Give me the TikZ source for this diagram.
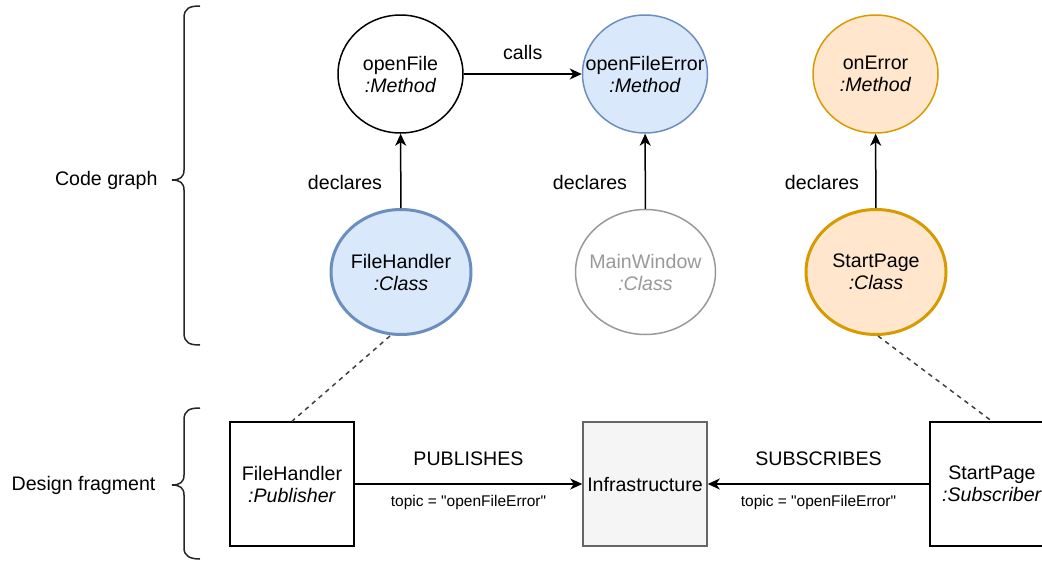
\documentclass[tikz,border=0pt]{standalone}
\usepackage{fontspec}
\setmainfont{Liberation Sans}[Ligatures=TeXOff]
\usetikzlibrary{shapes.geometric,arrows.meta}
\definecolor{blueFill}{HTML}{DAE8FC}
\definecolor{blueLine}{HTML}{6C8EBF}
\definecolor{orangeFill}{HTML}{FFE6CC}
\definecolor{orangeLine}{HTML}{D79B00}
\definecolor{greyText}{HTML}{999999}
\definecolor{infraFill}{HTML}{F5F5F5}
\definecolor{infraLine}{HTML}{666666}
\begin{document}
\begin{tikzpicture}[x=1pt,y=-1pt,
  every node/.style={font=\fontsize{19.6}{22}\selectfont, text=black},
  method/.style={ellipse, draw, line width=1.5pt, minimum width=125pt, minimum height=118pt, inner sep=0pt},
  classnode/.style={ellipse, draw, line width=1.5pt, minimum width=140pt, minimum height=125pt, inner sep=0pt},
  caption/.style={align=center, inner sep=0pt},
  boxnode/.style={rectangle, draw, line width=1.5pt, minimum width=124pt, minimum height=124pt, inner sep=0pt, align=center},
  rel/.style={line width=1.5pt, -{Stealth[length=12pt,width=11pt,inset=3.5pt]}},
  trace/.style={line width=1.5pt, dash pattern=on 4.5pt off 4.5pt, draw=black!75},
  brace/.style={line width=1.5pt, draw=black!85},
  small/.style={font=\fontsize{15.5}{18}\selectfont}
]
\useasboundingbox (0,0) rectangle (1042,560);

% code graph: methods (shape first, caption on top so the ellipse keeps its size)
\node[method] (of) at (400.5,74) {};
\node[caption] (of-t) at (of) {openFile\\\textit{:Method}};
\node[method, fill=blueFill, draw=blueLine] (ofe) at (645,74) {};
\node[caption] (ofe-t) at (ofe) {openFileError\\\textit{:Method}};
\node[method, fill=orangeFill, draw=orangeLine] (oe) at (875.5,74) {};
\node[caption] (oe-t) at (oe) {onError\\\textit{:Method}};

% code graph: classes
\node[classnode, fill=blueFill, draw=blueLine, line width=3pt] (fh) at (401,272) {};
\node[caption] (fh-t) at (fh) {FileHandler\\\textit{:Class}};
\node[classnode, draw=greyText] (mw) at (645.5,272) {};
\node[caption, text=greyText] (mw-t) at (mw) {MainWindow\\\textit{:Class}};
\node[classnode, fill=orangeFill, draw=orangeLine, line width=3pt] (sp) at (876,272) {};
\node[caption] (sp-t) at (sp) {StartPage\\\textit{:Class}};

% code graph relations
\draw[rel] (of) -- node[above=10pt] {calls} (ofe);
\draw[rel] (fh) -- (of);
\draw[rel] (mw) -- (ofe);
\draw[rel] (sp) -- (oe);
\node (d1) at (345,182) {declares};
\node (d2) at (590,182) {declares};
\node (d3) at (822,182) {declares};

% design fragment
\node[boxnode] (pub) at (292,484) {FileHandler\\\textit{:Publisher}};
\node[boxnode, fill=infraFill, draw=infraLine] (infra) at (645,484) {Infrastructure};
\node[boxnode] (sub) at (992,484) {StartPage\\\textit{:Subscriber}};

\draw[rel] (pub) -- node[above=14pt] {PUBLISHES} node[below=7pt, small] {topic = "openFileError"} (infra);
\draw[rel] (sub) -- node[above=14pt] {SUBSCRIBES} node[below=7pt, small] {topic = "openFileError"} (infra);

% traces between the two levels
\coordinate (fhb) at (390,336);
\coordinate (spb) at (878,336);
\draw[trace] (fhb) -- (pub.north);
\draw[trace] (spb) -- (sub.north);

% level braces
\draw[brace] (200,6) .. controls (190,6) and (184,8) .. (184,18)
  -- (184,170) .. controls (184,177) and (180,180) .. (172,180)
  .. controls (180,180) and (184,183) .. (184,190)
  -- (184,333) .. controls (184,343) and (190,345) .. (200,345);
\node[anchor=east] (cg) at (161,180) {Code graph};

\draw[brace] (200,408) .. controls (190,408) and (184,410) .. (184,420)
  -- (184,475) .. controls (184,482) and (180,485) .. (172,485)
  .. controls (180,485) and (184,488) .. (184,495)
  -- (184,548) .. controls (184,556) and (190,559) .. (200,559);
\node[anchor=east] (df) at (159,485) {Design fragment};
\end{tikzpicture}
\end{document}
